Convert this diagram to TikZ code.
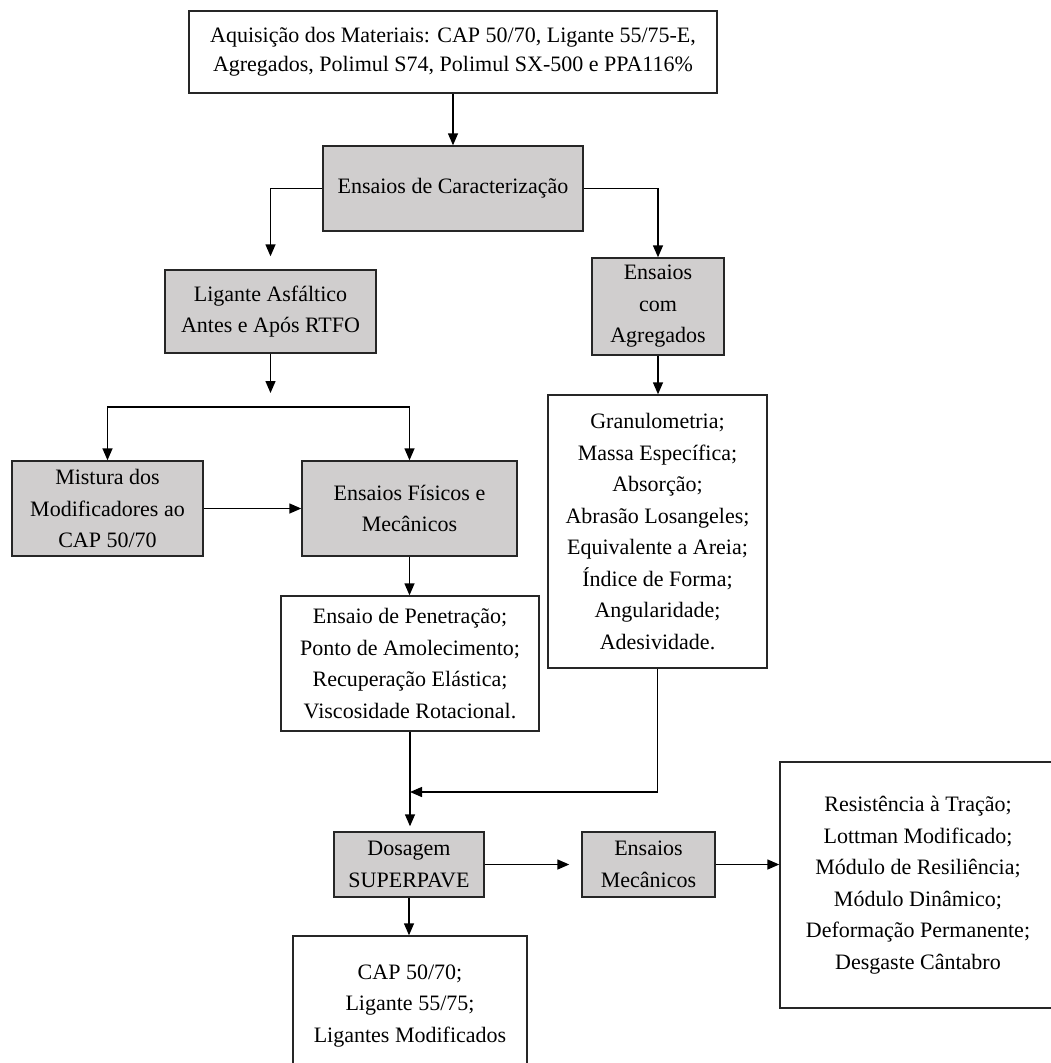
\documentclass[tikz,border=0pt]{standalone}
\usepackage{fontspec}
\setmainfont{Liberation Serif}
\usetikzlibrary{arrows.meta}
\definecolor{boxgray}{RGB}{208,206,206}
\begin{document}
\begin{tikzpicture}[x=1pt,y=-1pt,
  box/.style={draw=black!85, line width=1.4pt, align=center, inner sep=0pt, font=\fontsize{22}{31.5}\selectfont},
  graybox/.style={box, fill=boxgray},
  arr/.style={line width=1.4pt, -{Triangle[length=12pt,width=10pt]}},
  ln/.style={line width=1.4pt}]
\useasboundingbox (0,0) rectangle (1051,1063);
\clip (0,0) rectangle (1051,1063);
\fill[white] (0,0) rectangle (1051,1063);

\node[box, minimum width=528pt, minimum height=82pt, font=\fontsize{22}{29}\selectfont] (top) at (453,52)
  {Aquisição dos Materiais: CAP 50/70, Ligante 55/75-E,\\Agregados, Polimul S74, Polimul SX-500 e PPA116\%};
\node[graybox, minimum width=260pt, minimum height=85pt] (carac) at (453,188.5) {Ensaios de Caracterização};
\node[graybox, minimum width=211pt, minimum height=83pt] (lig) at (270.5,311.5) {Ligante Asfáltico\\Antes e Após RTFO};
\node[graybox, minimum width=132pt, minimum height=97pt] (agr) at (658,306.5) {Ensaios\\com\\Agregados};
\node[graybox, minimum width=191pt, minimum height=95pt] (mix) at (107.5,508.5) {Mistura dos\\Modificadores ao\\CAP 50/70};
\node[graybox, minimum width=215pt, minimum height=95pt] (fis) at (409.5,508.5) {Ensaios Físicos e\\Mecânicos};
\node[box, minimum width=219pt, minimum height=273pt] (gran) at (657.5,531.5)
  {Granulometria;\\Massa Específica;\\Absorção;\\Abrasão Losangeles;\\Equivalente a Areia;\\Índice de Forma;\\Angularidade;\\Adesividade.};
\node[box, minimum width=258pt, minimum height=135pt] (pen) at (410,663.5)
  {Ensaio de Penetração;\\Ponto de Amolecimento;\\Recuperação Elástica;\\Viscosidade Rotacional.};
\node[graybox, minimum width=150pt, minimum height=65pt] (dos) at (409,864.5) {Dosagem\\SUPERPAVE};
\node[graybox, minimum width=133pt, minimum height=65pt] (mec) at (648.5,864.5) {Ensaios\\Mecânicos};
\node[box, minimum width=276pt, minimum height=246pt] (res) at (918,885)
  {Resistência à Tração;\\Lottman Modificado;\\Módulo de Resiliência;\\Módulo Dinâmico;\\Deformação Permanente;\\Desgaste Cântabro};
\node[box, minimum width=234pt, minimum height=140pt] (cap) at (410,1006)
  {CAP 50/70;\\Ligante 55/75;\\Ligantes Modificados};

\coordinate (bar) at (270.5,407);
\coordinate (merge) at (410,792);

\draw[arr] (top) -- (carac);
\draw[arr] (carac.west) -| ([yshift=13pt]lig.north);
\draw[arr] (carac.east) -| (agr.north);
\draw[arr] (lig.south) -- ([yshift=14pt]bar);
\draw[arr] (bar) -| (mix.north);
\draw[arr] (bar) -| (fis.north);
\draw[arr] (mix.east) -- (fis.west);
\draw[arr] (fis.south) -- (fis.south |- pen.north);
\draw[arr] (agr.south) -- (agr.south |- gran.north);
\draw[arr] (pen.south) -- ([yshift=5pt]pen.south |- dos.north);
\draw[arr] (gran.south) |- (merge);
\draw[arr] (dos.east) -- ([xshift=-12pt]mec.west);
\draw[arr] (mec.east) -- (mec.east -| res.west);
\draw[arr] (dos.south) -- (dos.south |- cap.north);
\end{tikzpicture}
\end{document}
